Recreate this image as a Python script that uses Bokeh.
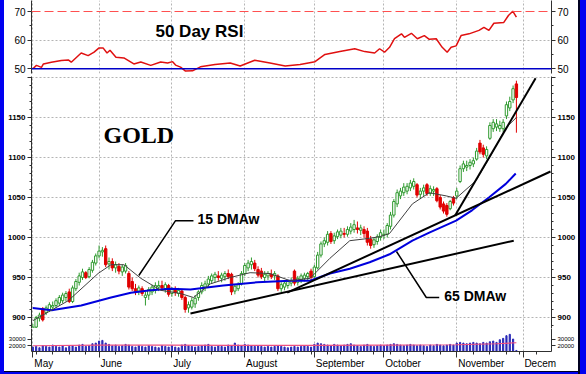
from bokeh.plotting import figure
from bokeh.layouts import row, column
from bokeh.models import Range1d, FixedTicker, Spacer, Span, LinearAxis, ColumnDataSource
from bokeh.core.properties import value
from bokeh.embed import file_html
from bokeh.resources import INLINE

# ---------------- data (trading-day index 0 = 1 May 2009) ----------------
month_names = ["May", "June", "July", "August", "September", "October", "November", "Decem"]
month_start = [0, 20, 42, 64, 85, 106, 128, 148]
month_label_pos = [3.3, 23.7, 45.1, 69.1, 92.8, 111.8, 135.4, 153.2]
week_ticks = [1, 6, 11, 16, 25, 30, 35, 40, 44, 49, 54, 59, 69, 74, 79, 84, 89, 93, 98,
              103, 108, 113, 118, 123, 133, 138, 143, 147, 152]

opens = [884, 888, 899, 911, 906, 910, 913, 915, 918, 921, 925, 932, 920, 936, 944, 950, 956, 951, 959, 968,
         977, 982, 986, 967, 970, 962, 964, 957, 958, 955, 945, 936, 933, 936, 925, 928, 932, 934, 938, 940, 936, 940,
         930, 934, 930, 933, 925, 912, 913, 917, 925, 932, 938, 942, 946, 950, 952, 949, 951, 955, 954, 933,
         936, 942, 955, 962, 966, 968, 960, 958, 950, 952, 954, 952, 952, 936, 938, 940, 943, 958, 944, 947, 949, 951, 958,
         951, 962, 978, 992, 994, 1005, 996, 1001, 1003, 1005, 1004, 1008, 1010, 1012, 1009, 1010, 1008, 998, 991, 995, 1000,
         1003, 1004, 1014, 1028, 1042, 1052, 1056, 1058, 1062, 1064, 1066, 1054, 1058, 1066, 1055, 1058, 1061, 1050, 1042, 1040, 1036, 1050,
         1052, 1070, 1086, 1088, 1090, 1092, 1098, 1118, 1112, 1102, 1124, 1136, 1138, 1136, 1136, 1152, 1162, 1172, 1192]
highs = [892, 902, 906, 913, 915, 919, 920, 924, 928, 931, 933, 936, 940, 948, 956, 961, 958, 963, 972, 980,
         990, 988, 990, 975, 974, 970, 968, 966, 968, 958, 950, 942, 940, 939, 932, 938, 941, 944, 946, 946, 944, 942,
         938, 939, 937, 935, 927, 920, 925, 928, 934, 944, 946, 952, 955, 957, 958, 956, 958, 960, 956, 942,
         944, 958, 968, 972, 975, 972, 964, 962, 958, 958, 960, 958, 954, 944, 946, 947, 950, 960, 952, 955, 956, 957, 961,
         966, 982, 995, 1000, 1008, 1008, 1006, 1010, 1012, 1012, 1014, 1018, 1022, 1020, 1016, 1014, 1012, 1002, 1000, 1004, 1010,
         1010, 1018, 1032, 1048, 1060, 1062, 1068, 1068, 1072, 1074, 1068, 1062, 1066, 1068, 1065, 1064, 1063, 1053, 1045, 1043, 1047, 1052,
         1062, 1090, 1096, 1096, 1098, 1100, 1112, 1122, 1116, 1114, 1144, 1148, 1148, 1146, 1148, 1170, 1176, 1190, 1196]
lows = [880, 886, 895, 895, 903, 907, 908, 912, 915, 918, 920, 918, 918, 933, 940, 947, 948, 949, 956, 965,
        974, 976, 963, 960, 958, 956, 954, 952, 955, 935, 933, 928, 928, 927, 915, 922, 928, 930, 933, 934, 931, 926,
        926, 927, 926, 922, 906, 906, 910, 912, 921, 929, 933, 938, 942, 944, 946, 944, 946, 948, 928, 929,
        933, 940, 952, 958, 960, 958, 950, 948, 945, 947, 948, 947, 933, 932, 934, 936, 939, 940, 940, 943, 945, 946, 947,
        948, 960, 975, 988, 990, 992, 992, 998, 999, 1000, 1001, 1004, 1006, 1005, 1003, 1000, 990, 986, 987, 991, 996,
        998, 1000, 1010, 1025, 1038, 1048, 1052, 1054, 1058, 1060, 1050, 1048, 1052, 1052, 1052, 1052, 1044, 1035, 1030, 1026, 1034, 1040,
        1048, 1068, 1082, 1083, 1085, 1088, 1096, 1104, 1100, 1098, 1122, 1132, 1133, 1132, 1132, 1148, 1158, 1168, 1131]
closes = [888, 900, 903, 897, 912, 916, 915, 921, 925, 928, 930, 920, 937, 945, 952, 957, 950, 960, 969, 977,
          983, 984, 966, 970, 962, 966, 958, 963, 965, 938, 936, 932, 937, 930, 928, 935, 938, 940, 940, 937, 941, 929,
          935, 931, 934, 925, 910, 916, 921, 924, 932, 940, 942, 948, 952, 954, 950, 953, 955, 951, 932, 939,
          941, 955, 965, 968, 970, 961, 953, 951, 954, 955, 951, 955, 936, 941, 943, 945, 946, 943, 949, 952, 953, 955, 950,
          963, 978, 992, 996, 1004, 995, 1002, 1007, 1008, 1004, 1010, 1013, 1016, 1010, 1012, 1005, 994, 990, 997, 1001, 1006,
          1004, 1015, 1028, 1045, 1056, 1058, 1063, 1064, 1068, 1070, 1053, 1058, 1062, 1055, 1061, 1060, 1046, 1038, 1033, 1029, 1045, 1043,
          1058, 1086, 1092, 1090, 1094, 1096, 1108, 1107, 1104, 1110, 1140, 1144, 1142, 1140, 1144, 1166, 1170, 1186, 1175]
volume = [18000, 19000, 17000, 20000, 19000, 18000, 21000, 19000, 18000, 20000, 17000, 19000, 20000, 18000, 21000, 22000, 19000, 20000, 23000, 24000,
          27000, 28000, 24000, 22000, 20000, 21000, 19000, 20000, 22000, 21000, 19000, 18000, 20000, 19000, 18000, 20000, 19000, 18000, 17000, 20000, 19000, 18000,
          20000, 18000, 17000, 21000, 22000, 20000, 19000, 18000, 19000, 20000, 21000, 22000, 19000, 18000, 20000, 19000, 18000, 21000, 20000, 24000, 21000, 20000,
          22000, 21000, 20000, 19000, 20000, 19000, 18000, 19000, 18000, 19000, 20000, 19000, 18000, 17000, 18000, 19000, 18000, 19000, 20000, 19000, 18000,
          22000, 24000, 23000, 22000, 21000, 20000, 22000, 21000, 20000, 21000, 22000, 23000, 21000, 20000, 19000, 21000, 22000, 20000, 19000, 20000, 21000,
          20000, 21000, 22000, 23000, 22000, 21000, 20000, 21000, 22000, 21000, 20000, 21000, 20000, 19000, 21000, 20000, 22000, 21000, 20000, 21000, 22000, 21000,
          24000, 25000, 24000, 23000, 24000, 25000, 24000, 23000, 25000, 24000, 26000, 27000, 25000, 29000, 31000, 35000, 37000, 30000, 13000]

# moving averages and RSI (index, value)
ma15_x = [0, 10.7, 19.7, 23.6, 27.5, 32.6, 38.6, 44.6, 48.5, 53.6, 59.6, 65.6, 71.6, 77.7, 83.7, 89.7, 95.7, 101.7,
          104.7, 107.7, 114.6, 119.7, 124.8, 127.8, 133.8, 138.6, 142.8, 146]
ma15_y = [896, 921, 955, 966, 966, 949, 934, 930, 925, 942, 950, 956, 955, 946, 949, 974, 996, 999,
          1001, 1005, 1042, 1056, 1052, 1049, 1071, 1105, 1137, 1150]
ma65_x = [0, 5.6, 14.6, 23.6, 29.6, 35.6, 41.6, 47.6, 57.5, 67.7, 77.7, 83.7, 89.7, 95.7, 101.7, 107.7,
          114.6, 119.7, 127.8, 132.6, 137.7, 142.8, 145.8]
ma65_y = [912, 909, 915, 925, 931, 934, 936, 935, 940, 944, 946, 946, 955, 961, 969, 979,
          996, 1006, 1021, 1034, 1050, 1067, 1080]
rsi_x = [0, 1.1, 2.6, 3.2, 5.6, 8.6, 10.7, 11.6, 14.6, 16.7, 18.5, 20, 21.2, 22.4, 23.3, 25.1, 27.5, 30.5, 32.6,
         35.6, 38.6, 40.7, 42.2, 43.1, 44.6, 46.1, 48.2, 50.6, 55, 59.6, 62.6, 67, 71.6, 76.2, 80.7, 85.2, 88.2,
         92.7, 97.2, 100.2, 103.2, 104.7, 106.2, 107.7, 109.2, 111.3, 112.2, 114.3, 116.1, 118.2, 119.7, 121.8,
         123.6, 125.1, 126.3, 127.8, 129.3, 131.7, 134.7, 136.2, 137.7, 139.2, 142.2, 143.6, 144.9, 146]
rsi_y = [50, 51.2, 50.5, 51.7, 52.3, 52.9, 53.1, 52.3, 55.5, 54.6, 55.8, 57.3, 57.3, 55.5, 56.5, 54, 53.8, 51.7, 52.4,
         51.2, 52.4, 52, 52.5, 51.3, 50.6, 49.2, 49.3, 50.7, 51.5, 52, 51, 53, 52, 51, 51.5, 52.5, 55,
         56, 57, 56, 55.5, 57, 55.8, 57.5, 60.5, 62.2, 61.0, 62.4, 60.5, 61.6, 60.3, 60.5,
         57.5, 55.8, 57.5, 58, 61.6, 62.2, 63.4, 64.5, 63.4, 65.9, 66.2, 68.6, 70.1, 68.0]
vma_x = [0, 20, 40, 60, 85, 106, 128, 140, 146]
vma_y = [20000, 21000, 21000, 20500, 20500, 21000, 21500, 23000, 24500]

# trend lines (start/end index, start/end price)
trend_x = [[47.6, 145.2], [76.8, 156.3], [127.5, 151.8]]
trend_y = [[905, 996], [931, 1082.5], [1027.5, 1199]]
# annotation texts and leaders
note_text = ["15 DMAw", "65 DMAw"]
note_x = [49.7, 124.2]
note_y = [1023.75, 927.5]
leader_x = [[48.5, 43.1, 32.0], [122.7, 118.8, 109.8]]
leader_y = [[1021, 1021, 952.5], [925, 925, 982.5]]
title_text = ["GOLD"]
rsi_title = ["50 Day RSI"]
price_ticks = [900, 950, 1000, 1050, 1100, 1150, 1200]
rsi_ticks = [50, 60, 70]
vol_ticks = [20000, 30000]

# ---------------- styling helpers ----------------
FONT = "Liberation Sans"
W = 574
MBL, MBR = 26, 25
xr = Range1d(-0.4, 156.6)
GRID = "#b4b4b4"


def base_fig(height, yr, top=0, bottom=0):
    p = figure(width=W, height=height, x_range=xr, y_range=yr, output_backend="svg",
               toolbar_location=None, x_axis_location=None, y_axis_location="left",
               min_border_left=MBL, min_border_right=MBR, min_border_top=top, min_border_bottom=bottom)
    p.outline_line_color = None
    p.background_fill_color = "white"
    p.border_fill_color = "white"
    p.xgrid.ticker = FixedTicker(ticks=month_start)
    p.xgrid.grid_line_color = GRID
    p.xgrid.grid_line_dash = "2 2"
    return p


def style_y(ax, ticks, minor, size, bold=True):
    ax.ticker = FixedTicker(ticks=ticks, minor_ticks=minor)
    ax.major_label_text_font = FONT
    ax.major_label_text_font_size = size
    ax.major_label_text_font_style = "bold" if bold else "normal"
    ax.major_label_text_color = "black"
    ax.axis_line_color = "#303030"
    ax.major_tick_line_color = "#303030"
    ax.minor_tick_line_color = "#303030"
    ax.major_tick_out = 4
    ax.major_tick_in = 0
    ax.minor_tick_out = 2
    ax.minor_tick_in = 0
    ax.major_label_standoff = 2


def add_right(p, ticks, minor, size, bold=True, overrides=None):
    ax = LinearAxis()
    style_y(ax, ticks, minor, size, bold)
    if overrides:
        ax.major_label_overrides = overrides
    p.add_layout(ax, "right")


# ---------------- RSI panel ----------------
rsi = base_fig(76, Range1d(48.36, 73.84), top=0, bottom=3)
style_y(rsi.yaxis[0], rsi_ticks, [55, 65], "10px", bold=False)
add_right(rsi, rsi_ticks, [55, 65], "10px", bold=False)
rsi.ygrid.ticker = FixedTicker(ticks=[60])
rsi.ygrid.grid_line_color = GRID
rsi.ygrid.grid_line_dash = "2 2"
rsi.add_layout(Span(location=rsi_ticks[2], dimension="width", line_color="#ff5050", line_dash="9 4", line_width=1.2))
rsi.add_layout(Span(location=rsi_ticks[0], dimension="width", line_color="#0000c8", line_width=1.6))
rsi.line(rsi_x, rsi_y, line_color="#e01010", line_width=1.5)
rsi.text(x=[50.3], y=[63.0], text=rsi_title, text_font=value(FONT), text_font_style="bold",
         text_font_size="17px", text_align="center", text_baseline="middle", text_color="black")

# ---------------- price panel ----------------
price = base_fig(252, Range1d(886.25, 1201.25))
style_y(price.yaxis[0], price_ticks, list(range(890, 1210, 10)), "8px")
ov = {1200: ""}
price.yaxis[0].major_label_overrides = ov
add_right(price, price_ticks, list(range(890, 1210, 10)), "8px", overrides=ov)
price.ygrid.ticker = FixedTicker(ticks=price_ticks)
price.ygrid.grid_line_color = GRID
price.ygrid.grid_line_dash = "2 2"

days = list(range(len(closes)))
up = dict(x=[], h=[], l=[], top=[], bot=[])
dn = dict(x=[], h=[], l=[], top=[], bot=[])
for i in days:
    d = up if closes[i] >= opens[i] else dn
    d["x"].append(i); d["h"].append(highs[i]); d["l"].append(lows[i])
    d["top"].append(max(opens[i], closes[i])); d["bot"].append(min(opens[i], closes[i]))
for d, col, fill in ((up, "#2f9a2f", "white"), (dn, "#e00000", "#e00000")):
    src = ColumnDataSource(d)
    price.segment(x0="x", y0="h", x1="x", y1="l", source=src, line_color=col, line_width=1)
    price.vbar(x="x", top="top", bottom="bot", width=0.72, source=src, fill_color=fill, line_color=col, line_width=1)

price.line(ma65_x, ma65_y, line_color="#0000dd", line_width=2)
price.line(ma15_x, ma15_y, line_color="#404040", line_width=1)
price.multi_line(trend_x, trend_y, line_color="black", line_width=2)
price.multi_line(leader_x, leader_y, line_color="black", line_width=1.5)
price.text(x=note_x, y=note_y, text=note_text, text_font=value(FONT), text_font_style="bold",
           text_font_size="14px", text_align="left", text_baseline="middle", text_color="black")
price.text(x=[32.0], y=[1128], text=title_text, text_font=value("Liberation Serif"), text_font_style="bold",
           text_font_size="24px", text_align="center", text_baseline="middle", text_color="black")

# ---------------- volume panel ----------------
vol = base_fig(43, Range1d(11430, 45700), bottom=19)
style_y(vol.yaxis[0], vol_ticks, [], "6px", bold=False)
add_right(vol, vol_ticks, [], "6px", bold=False)
vol.ygrid.grid_line_color = None
xa = LinearAxis(ticker=FixedTicker(ticks=month_start, minor_ticks=week_ticks))
xa.major_label_overrides = {m: "" for m in month_start}
xa.major_label_text_font_size = "1px"
xa.major_label_standoff = 0
xa.axis_line_color = "#303030"
xa.major_tick_line_color = "#303030"
xa.minor_tick_line_color = "#303030"
xa.major_tick_out = 6
xa.major_tick_in = 0
xa.minor_tick_out = 3
xa.minor_tick_in = 0
vol.add_layout(xa, "below")
xl = LinearAxis(ticker=FixedTicker(ticks=month_label_pos, minor_ticks=[]))
xl.major_label_overrides = {m: n for m, n in zip(month_label_pos, month_names)}
xl.major_label_text_font = FONT
xl.major_label_text_font_size = "10px"
xl.major_label_text_color = "black"
xl.major_label_standoff = 0
xl.axis_line_color = None
xl.major_tick_line_color = None
xl.minor_tick_line_color = None
xl.major_tick_out = 0
xl.major_tick_in = 0
vol.add_layout(xl, "below")
vol.vbar(x=days, top=volume, bottom=vol.y_range.start, width=0.35, fill_color="#2a2ab8", line_color="#2a2ab8")
vol.line(vma_x, vma_y, line_color="#f05080", line_width=1.2)

# ---------------- frame ----------------
BLUE = "#0000f0"
layout = row(
    Spacer(width=4, height=374, styles={"background-color": BLUE}),
    column(
        rsi, price, vol,
        Spacer(width=W, height=1, styles={"background-color": "#000020"}),
        Spacer(width=W, height=2, styles={"background-color": BLUE}),
    ),
    Spacer(width=2, height=374, styles={"background-color": "#000020"}),
    Spacer(width=6, height=374, styles={"background-color": BLUE}),
)

open("out.html", "w").write(file_html(layout, INLINE))
